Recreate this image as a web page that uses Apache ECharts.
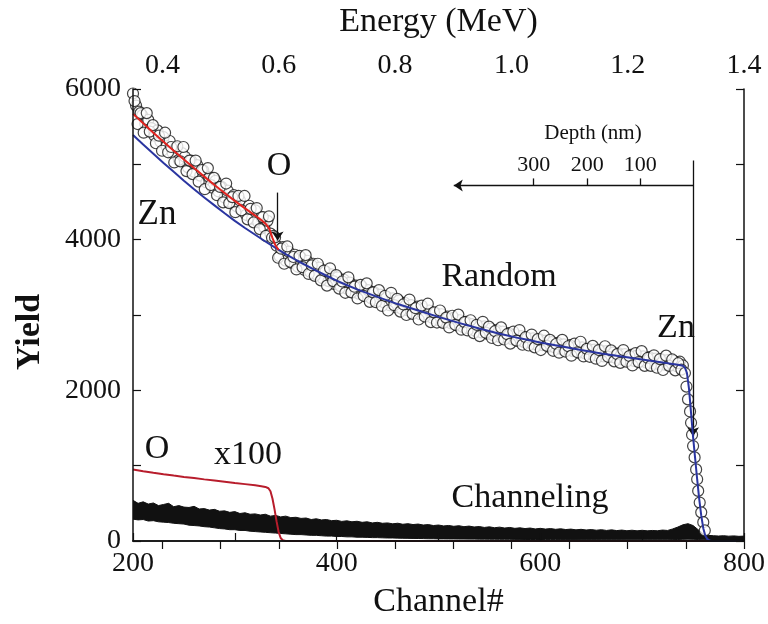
<!DOCTYPE html>
<html><head><meta charset="utf-8">
<script src="https://cdn.jsdelivr.net/npm/echarts@6/dist/echarts.min.js"></script>
<style>html,body{margin:0;padding:0;background:#fff}#c{width:768px;height:624px}</style>
</head><body><div id="c"></div>
<script>
// ---------- data ----------
const energyTickValues = [0.4,0.5,0.6,0.7,0.8,0.9,1.0,1.1,1.2,1.3,1.4];
const energyLabelValues = [0.4,0.6,0.8,1.0,1.2,1.4];
const energyAtChannel800 = 1.4;
const energyPerChannel = 0.0017513;

// Random spectrum (open circles), set A: channels 200..740 every 3 channels
const randomStartA = 200, randomStep = 3;
const randomValuesA = [
 5940,5780,5700,5650,5540,5590,5480,5380,5450,5300,
 5360,5240,5310,5150,5220,5060,5150,5100,4960,5050,
 4900,4990,4850,4920,4760,4830,4690,4780,4640,4700,
 4560,4650,4500,4590,4440,4520,4380,4330,4450,4280,
 4390,4230,4300,4160,4250,4080,4050,3920,3780,3900,
 3720,3840,3690,3800,3640,3760,3600,3720,3570,3680,
 3540,3630,3490,3580,3450,3540,3410,3500,3380,3470,
 3350,3430,3300,3390,3280,3370,3250,3330,3220,3300,
 3190,3270,3170,3240,3130,3220,3100,3190,3080,3160,
 3060,3130,3030,3110,3010,3080,2980,3060,2960,3030,
 2930,3010,2910,2980,2890,2960,2860,2930,2840,2910,
 2820,2880,2790,2860,2770,2850,2750,2820,2730,2800,
 2710,2780,2700,2760,2680,2740,2660,2720,2640,2700,
 2630,2690,2610,2680,2600,2660,2580,2640,2570,2630,
 2550,2610,2540,2600,2520,2580,2500,2570,2490,2550,
 2480,2540,2460,2530,2450,2520,2440,2500,2430,2490,
 2410,2480,2400,2470,2390,2460,2380,2450,2370,2440,
 2360,2420,2350,2410,2340,2400,2330,2390,2320,2380,
 2330
];
// set B: channels 201.5..738.5 every 3 channels
const randomStartB = 201.5;
const randomValuesB = [
 5840,5535,5680,5420,5680,5435,5520,5280,5380,5180,
 5420,5160,5230,5025,5240,5040,5230,4910,5050,4870,
 5050,4770,4925,4670,4950,4725,4820,4590,4700,4495,
 4745,4485,4565,4365,4580,4390,4580,4270,4410,4230,
 4420,4140,4300,4050,4310,4025,4030,3760,3880,3680,
 3910,3705,3770,3605,3785,3635,3795,3545,3660,3520,
 3680,3460,3590,3390,3620,3450,3530,3350,3445,3295,
 3500,3300,3375,3220,3400,3255,3420,3175,3300,3170,
 3330,3120,3255,3060,3295,3130,3215,3045,3140,3000,
 3205,3015,3090,2940,3125,2980,3150,2905,3035,2900,
 3060,2895,2965,2835,2990,2870,3005,2805,2905,2795,
 2930,2760,2870,2720,2910,2765,2845,2695,2785,2665,
 2835,2675,2745,2620,2780,2660,2800,2605,2705,2595,
 2740,2570,2680,2535,2725,2590,2670,2525,2615,2500,
 2670,2515,2585,2460,2620,2505,2645,2450,2550,2445,
 2590,2420,2535,2390,2585,2445,2530,2385,2480,2365,
 2535,2380,2455,2330,2495,2375,2520,2325,2430,2325,
 2465,2300,2415,2270,2460,2325,2410,2265,2360,2275
];
// Random spectrum on the Zn edge
const edgeChannels = [742,743.5,745,747,748,749,750,751.5,753,754,755,756.5,758,760,761.5];
const edgeValues   = [2230,2050,1880,1720,1570,1410,1260,1110,950,820,665,510,380,250,140];

// Simulation: total (blue)
const blueChannels = [200,210,220,230,240,250,260,270,280,290,300,310,320,330,340,350,360,370,380,390,400,420,440,460,480,500,520,540,560,580,600,620,640,660,680,700,720,735,740,742,744,746,748,750,752,754,756,758,760,762,764,766,768,800];
const blueValues   = [5390,5262,5140,5018,4900,4783,4670,4560,4455,4350,4250,4155,4065,3976,3890,3808,3730,3658,3590,3521,3455,3340,3240,3145,3060,2975,2895,2820,2750,2690,2635,2585,2535,2490,2450,2410,2370,2340,2325,2300,2230,2020,1700,1380,1100,820,560,340,170,70,25,8,0,0];

// Simulation with O (red)
const redChannels = [200,210,220,230,240,250,260,270,280,290,300,310,320,326,331,334,337,340,343];
const redValues   = [5670,5545,5420,5300,5180,5065,4950,4837,4725,4620,4515,4415,4320,4260,4200,4140,4020,3920,3865];

// O signal x100
const oChannels = [200,210,220,230,240,250,260,270,280,290,300,310,320,326,330,333,335,337,339,341,343,345,347,350,800];
const oValues   = [950,927,905,886,868,851,835,818,802,786,770,755,740,728,718,700,660,560,420,260,120,40,10,0,0];

// Channeling spectrum band: channels 200..800 every 5
const chanStart = 200, chanStep = 5;
const chanUpper = [
 540,500,520,490,505,470,485,500,455,470,
 450,445,460,425,430,410,420,395,400,380,
 390,365,375,355,360,345,355,330,340,320,
 330,310,315,300,305,285,295,280,285,270,
 275,260,268,255,262,248,255,240,248,235,
 240,228,236,222,230,218,225,212,218,205,
 212,200,206,195,203,190,198,186,192,180,
 188,176,184,172,180,168,175,165,172,160,
 168,158,165,155,162,152,158,148,155,146,
 152,143,150,140,148,138,145,136,143,135,
 142,135,140,136,145,140,160,185,215,230,
 205,150,95,75,70,66,70,64,68,62,
 65
];
const chanLower = [
 290,280,285,265,270,255,250,245,235,230,
 225,210,205,200,190,185,175,165,160,150,
 150,140,140,130,125,120,115,110,105,100,
 95,90,85,85,80,75,75,70,65,65,
 60,60,55,55,50,50,48,45,45,42,
 40,40,38,36,35,34,33,32,30,30,
 28,28,27,27,26,26,25,25,24,24,
 23,23,22,22,22,21,21,20,20,20,
 20,19,19,19,18,18,18,18,17,17,
 17,17,16,16,16,16,16,15,15,15,
 15,15,15,15,15,15,18,20,22,24,
 22,20,15,12,12,12,12,12,12,12,
 12
];

// Depth scale annotation (depth in nm at channel)
const depthLabels = ['300','200','100'];
const depthChannels = [593.5, 646, 698];
const depthSurfaceChannel = 750;
const depthArrowEndChannel = 515;
const depthLevel = 4718;

// ---------- build ----------
const FONT = '"Liberation Serif", "Times New Roman", serif';
const eToCh = e => 800 - (energyAtChannel800 - e) / energyPerChannel;
const chToE = c => energyAtChannel800 - (800 - c) * energyPerChannel;

const randomData = randomValuesA.map((v, i) => [randomStartA + i * randomStep, v])
  .concat(randomValuesB.map((v, i) => [randomStartB + i * randomStep, v]))
  .concat(edgeChannels.map((c, i) => [c, edgeValues[i]]));
const chanCh = chanUpper.map((v, i) => chanStart + i * chanStep);
const upperData = chanUpper.map((v, i) => [chanCh[i], v]);
const lowerData = chanLower.map((v, i) => [chanCh[i], v]);
const blueData = blueChannels.map((c, i) => [c, blueValues[i]]);
const redData = redChannels.map((c, i) => [c, redValues[i]]);
const oData = oChannels.map((c, i) => [c, oValues[i]]);

const blk = '#111';
const lineBase = {type:'line', showSymbol:false, symbol:'none', animation:false};

const markLines = [
  [{coord:[342,4625], symbol:'none'}, {coord:[342,3990], symbol:'arrow'}],
  [{coord:[depthSurfaceChannel, depthLevel], symbol:'none'}, {coord:[depthArrowEndChannel, depthLevel], symbol:'arrow'}],
  [{coord:[depthSurfaceChannel, 5050], symbol:'none'}, {coord:[depthSurfaceChannel, 1390], symbol:'arrow'}]
].concat(depthChannels.map((c, i) => [
  {coord:[c, depthLevel], symbol:'none'},
  {coord:[c, depthLevel + 95], symbol:'none', label:{show:true, position:'end', formatter: depthLabels[i], fontFamily:FONT, fontSize:22, color:blk, distance:2}}
]));

const chart = echarts.init(document.getElementById('c'), null, {renderer:'canvas'});
chart.setOption({
  animation:false,
  backgroundColor:'#fff',
  grid:{left:133, right:22, top:88, bottom:82},
  xAxis:[{
    type:'value', position:'bottom', min:200, max:800, interval:100,
    name:'Channel#', nameLocation:'middle', nameGap:44,
    nameTextStyle:{fontFamily:FONT, fontSize:34, color:blk},
    axisLine:{lineStyle:{color:blk, width:1.5}},
    axisTick:{inside:true, length:8, lineStyle:{color:blk, width:1.2}},
    axisLabel:{fontFamily:FONT, fontSize:28, color:blk, margin:9,
      formatter:v => (v % 200 === 0 ? String(v) : '')},
    splitLine:{show:false}, z:10
  },{
    type:'value', position:'top', min:200, max:800,
    name:'Energy (MeV)', nameLocation:'middle', nameGap:50,
    nameTextStyle:{fontFamily:FONT, fontSize:34, color:blk},
    axisLine:{lineStyle:{color:blk, width:1.5}},
    axisTick:{inside:true, length:8, lineStyle:{color:blk, width:1.2}, customValues: energyTickValues.map(eToCh)},
    axisLabel:{fontFamily:FONT, fontSize:28, color:blk, margin:9,
      customValues: energyLabelValues.map(eToCh),
      formatter:v => chToE(v).toFixed(1)},
    splitLine:{show:false}, z:10
  }],
  yAxis:[{
    type:'value', position:'left', min:0, max:6000, interval:1000,
    name:'Yield', nameLocation:'middle', nameGap:86, nameRotate:90,
    nameTextStyle:{fontFamily:FONT, fontSize:34, color:blk, fontWeight:'bold', padding:[0,34,0,0]},
    axisLine:{show:true, lineStyle:{color:blk, width:1.5}},
    axisTick:{show:true, inside:true, length:8, lineStyle:{color:blk, width:1.2}},
    axisLabel:{fontFamily:FONT, fontSize:28, color:blk, margin:12,
      formatter:v => (v % 2000 === 0 ? String(v) : '')},
    splitLine:{show:false}, z:10
  },{
    type:'value', position:'right', min:0, max:6000, interval:1000,
    axisLine:{show:true, lineStyle:{color:blk, width:1.5}},
    axisTick:{show:true, inside:true, length:8, lineStyle:{color:blk, width:1.2}},
    axisLabel:{show:false}, splitLine:{show:false}, z:10
  }],
  series:[
    Object.assign({}, lineBase, {name:'Channeling', data:upperData,
      lineStyle:{color:blk, width:1}, areaStyle:{color:blk, opacity:1, origin:'start'}, z:1}),
    Object.assign({}, lineBase, {name:'Channeling (lower edge)', data:lowerData,
      lineStyle:{color:blk, width:1}, areaStyle:{color:'#fff', opacity:1, origin:'start'}, z:1}),
    Object.assign({}, lineBase, {name:'O x100', data:oData,
      lineStyle:{color:'#b81d2c', width:2}, z:3}),
    {type:'scatter', name:'Random', data:randomData, symbol:'circle', symbolSize:11,
      itemStyle:{color:'#fff', borderColor:'#151515', borderWidth:1.2}, z:4, animation:false},
    Object.assign({}, lineBase, {name:'Simulation', data:blueData,
      lineStyle:{color:'#2a35a0', width:2}, z:5,
      markLine:{silent:true, symbolSize:9, animation:false,
        lineStyle:{color:blk, width:1.3, type:'solid'}, label:{show:false},
        data:markLines}}),
    Object.assign({}, lineBase, {name:'Simulation with O', data:redData,
      lineStyle:{color:'#e2231f', width:2}, z:6})
  ],
  graphic:[
    {type:'text', x:157, y:215, z:20, style:{text:'Zn', font:'35px '+FONT, fill:blk, align:'center', verticalAlign:'middle'}},
    {type:'text', x:279, y:166, z:20, style:{text:'O', font:'34px '+FONT, fill:blk, align:'center', verticalAlign:'middle'}},
    {type:'text', x:499, y:277, z:20, style:{text:'Random', font:'34px '+FONT, fill:blk, align:'center', verticalAlign:'middle'}},
    {type:'text', x:676, y:328, z:20, style:{text:'Zn', font:'34px '+FONT, fill:blk, align:'center', verticalAlign:'middle'}},
    {type:'text', x:593, y:133, z:20, style:{text:'Depth (nm)', font:'21px '+FONT, fill:blk, align:'center', verticalAlign:'middle'}},
    {type:'text', x:157, y:449, z:20, style:{text:'O', font:'34px '+FONT, fill:blk, align:'center', verticalAlign:'middle'}},
    {type:'text', x:248, y:455, z:20, style:{text:'x100', font:'34px '+FONT, fill:blk, align:'center', verticalAlign:'middle'}},
    {type:'text', x:530, y:498, z:20, style:{text:'Channeling', font:'34px '+FONT, fill:blk, align:'center', verticalAlign:'middle'}}
  ]
});
</script>
</body></html>
